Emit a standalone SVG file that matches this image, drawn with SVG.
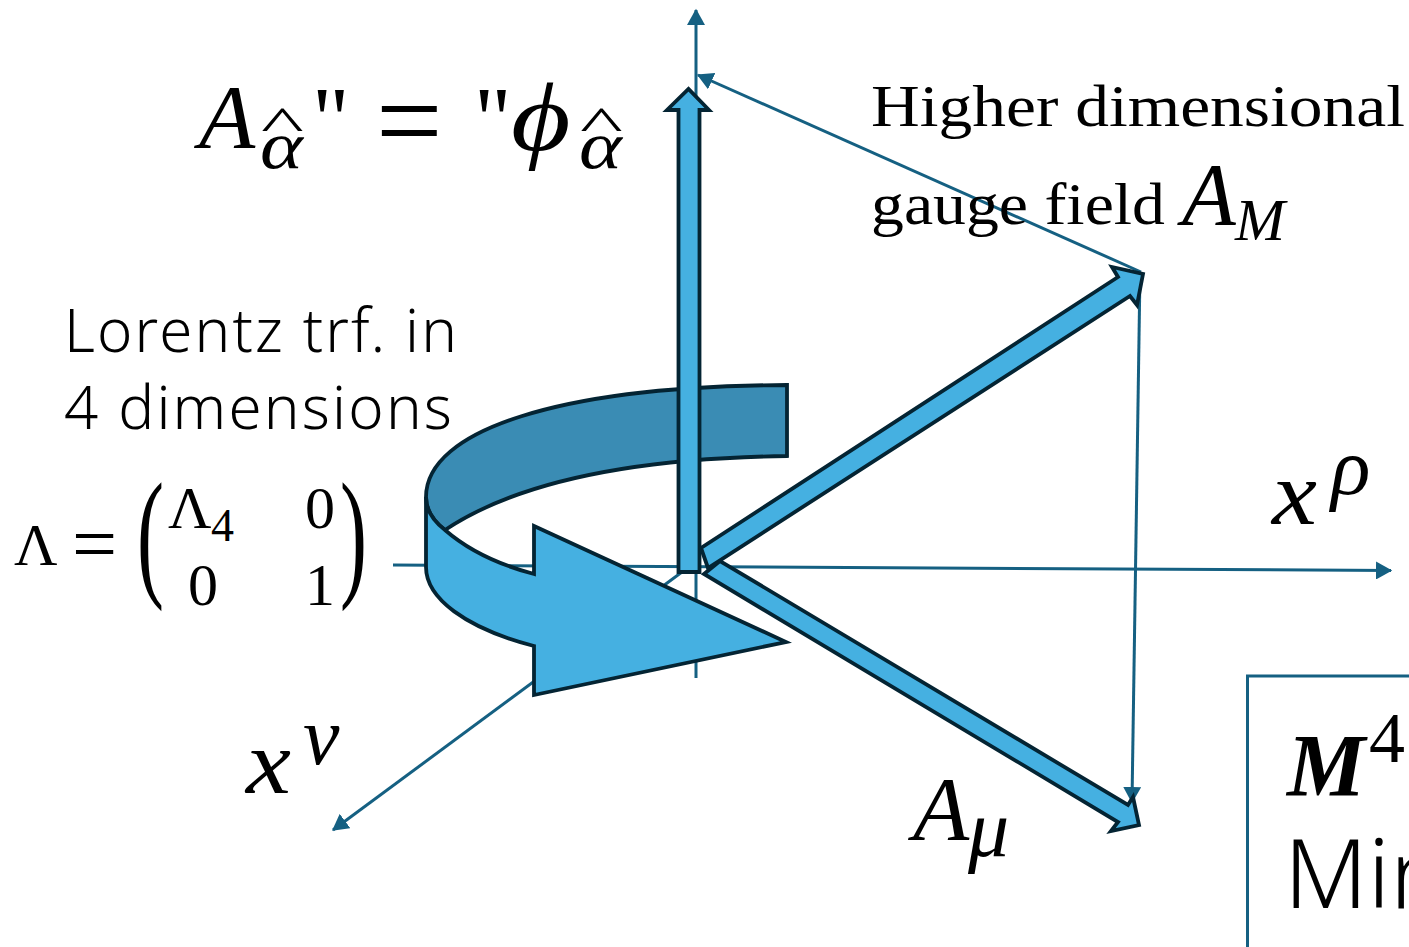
<svg xmlns="http://www.w3.org/2000/svg" width="1409" height="947" viewBox="0 0 1409 947">
<style>
.ax{fill:none;stroke:#156082;stroke-width:3}
.sh{stroke:#042433;stroke-width:3.800;stroke-linejoin:miter;stroke-miterlimit:10}
.bl{fill:#45b0e1}
.dk{fill:#3a8cb4}
text{fill:#000}
.m{font-family:"Liberation Serif","Noto Sans CJK JP",serif}
.i{font-style:italic}
.s{font-family:"Liberation Serif","Noto Sans CJK JP",serif;font-size:60px}
.g{font-family:"Noto Sans","Lato",sans-serif;font-weight:300;font-size:60px}
</style>
<defs>
<marker id="ah" markerWidth="6" markerHeight="6" refX="5" refY="3" orient="auto" markerUnits="strokeWidth"><path d="M0 0L5.4 3L0 6Z" fill="#156082"/></marker>
</defs>
<rect width="1409" height="947" fill="#fff"/>
<g id="connectors">
<path class="ax" d="M696 678V10" marker-end="url(#ah)"/>
<path class="ax" d="M393 565L1391 570.500" marker-end="url(#ah)"/>
<path class="ax" d="M682 572L333 830" marker-end="url(#ah)"/>
<path class="ax" d="M1141 272L698 75" marker-end="url(#ah)"/>
<path class="ax" d="M1140 272L1132 802" marker-end="url(#ah)"/>
</g>
<g id="rotation-back">
<path class="dk sh" d="M787 385V456C640 458 520 480 445 530C432 520 426 509 426 497C426 430 560 386 787 385Z"/>
</g>
<g id="arrow-a-mu">
<path class="bl sh" d="M704 574L720 561L1128 805L1133 797L1139 825L1111 831L1118 822Z"/>
</g>
<g id="arrow-a-m">
<path class="bl sh" d="M701 548L708 568L1130 296L1137 305L1143 274L1112 267L1118 277Z"/>
</g>
<g id="arrow-phi">
<path class="bl sh" d="M678.500 572V110H667L688.500 89L709 110H699.500V572Z"/>
</g>
<g id="rotation-front">
<path class="bl sh" d="M426 497C426 509 432 520 445 530C468 550 500 565 534 574V526L786 642L534 695V646C465 628 426 598 426 567Z"/>
</g>
<g id="label-a-hat">
<text class="m i" x="199" y="148" font-size="92">A</text>
<text class="m i" transform="translate(260 168) scale(1.2 1)" font-size="68">α</text>
<text class="m" transform="translate(261 140) scale(1.9 1)" font-size="48">^</text>
<text class="m" x="312" y="150" font-size="92">"</text>
<text class="m" x="376" y="161" font-size="118">=</text>
<text class="m" x="474" y="150" font-size="92">"</text>
<text class="m i" transform="translate(511 150) scale(1.25 1.05)" font-size="92">ϕ</text>
<text class="m i" transform="translate(579 168) scale(1.2 1)" font-size="68">α</text>
<text class="m" transform="translate(580 140) scale(1.9 1)" font-size="48">^</text>
</g>
<g id="label-higher">
<text class="s" x="871" y="126" textLength="534" lengthAdjust="spacingAndGlyphs">Higher dimensional</text>
<text class="s" x="871" y="224" textLength="294" lengthAdjust="spacingAndGlyphs">gauge field</text>
<text class="m i" x="1182" y="224" font-size="88">A</text>
<text class="m i" x="1235" y="240" font-size="60">M</text>
</g>
<g id="label-lorentz">
<text class="g" x="64" y="352" textLength="393">Lorentz trf. in</text>
<text class="g" x="64" y="429" textLength="388">4 dimensions</text>
</g>
<g id="label-matrix">
<text class="m" x="14" y="565" font-size="60">Λ</text>
<text class="m" x="72" y="571" font-size="80">=</text>
<text class="m" transform="translate(137 581) scale(.6 1.05)" font-size="135">(</text>
<text class="m" x="168" y="528" font-size="60">Λ</text>
<text class="m" x="211" y="541" font-size="46">4</text>
<text class="m" x="305" y="528" font-size="60">0</text>
<text class="m" x="188" y="605" font-size="60">0</text>
<text class="m" x="305" y="605" font-size="60">1</text>
<text class="m" transform="translate(340 581) scale(.6 1.05)" font-size="135">)</text>
</g>
<g id="label-rho">
<text class="m i" transform="translate(1272 524) scale(1.1 1)" font-size="92">x</text>
<text class="m i" x="1331" y="494" font-size="82">ρ</text>
</g>
<g id="label-nu">
<text class="m i" transform="translate(246 793) scale(1.1 1)" font-size="92">x</text>
<text class="m i" x="303" y="764" font-size="82">ν</text>
</g>
<g id="label-mu">
<text class="m i" x="913" y="840" font-size="92">A</text>
<text class="m i" x="968" y="856" font-size="82">μ</text>
</g>
<g id="box-m4">
<rect x="1247.500" y="676" width="240" height="320" fill="#fff" stroke="#156082" stroke-width="3"/>
<text class="m i" x="1287" y="795" font-size="88" font-weight="bold">M</text>
<text class="m" x="1369" y="762" font-size="72">4</text>
<text class="g" x="1284" y="908" style="font-size:96px">Min</text>
</g>
</svg>
